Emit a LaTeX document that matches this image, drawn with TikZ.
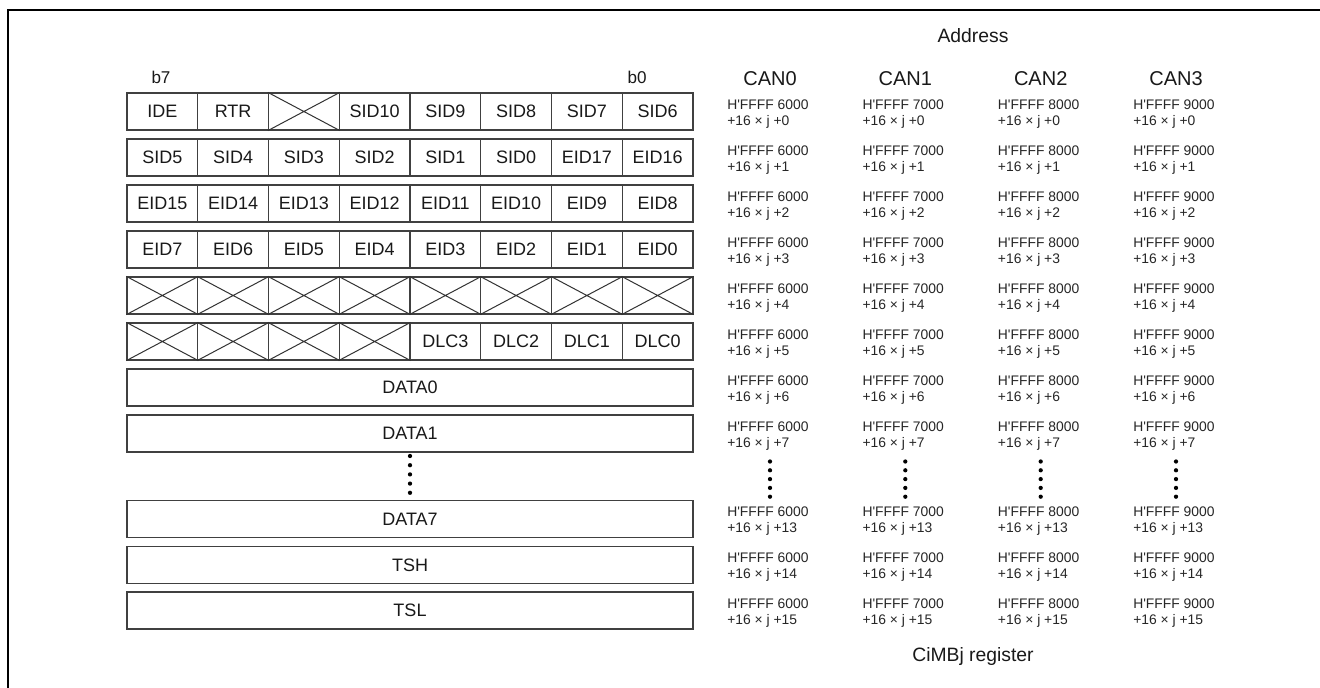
\documentclass[tikz,border=0pt]{standalone}
\usepackage{fontspec}
\setmainfont{Liberation Sans}
\begin{document}
\begin{tikzpicture}[x=0.75pt,y=-0.75pt,
  cell/.style={draw=black!75, line width=0.9pt, minimum width=53.06pt, minimum height=27.75pt, inner sep=0pt, font=\fontsize{13.5}{15}\selectfont, text=black!90},
  wide/.style={cell, minimum width=424.5pt},
  xline/.style={draw=black!80, line width=0.75pt},
  addr/.style={anchor=north west, inner sep=0pt, align=left, font=\fontsize{10.4}{12.2}\selectfont, text=black!85},
  head/.style={anchor=base, inner sep=0pt, font=\fontsize{14.5}{16}\selectfont, text=black!90},
  canhd/.style={head, font=\fontsize{15}{17}\selectfont},
  bitlbl/.style={anchor=base, inner sep=0pt, font=\fontsize{12.8}{15}\selectfont, text=black!90},
  dotc/.style={circle, fill=black, inner sep=0pt, minimum size=3.2pt},
]
\useasboundingbox (0,0) rectangle (1320,688);
\fill[white] (0,0) rectangle (1320,688);
% outer frame (left and top edges visible)
\coordinate (fbl) at (8,690);
\coordinate (ftl) at (8,10);
\coordinate (ftr) at (1322,10);
\draw[line width=2pt] (fbl) -- (ftl) -- (ftr);

% bit labels
\node[bitlbl] (b7) at (161,84) {b7};
\node[bitlbl] (b0) at (637,84) {b0};

% byte rows with bit cells
\foreach [count=\c from 0] \t in {IDE,RTR,{},SID10,SID9,SID8,SID7,SID6}
  \node[cell] (r0c\c) at ({162.375+70.75*\c},111.5) {\t};
\foreach [count=\c from 0] \t in {SID5,SID4,SID3,SID2,SID1,SID0,EID17,EID16}
  \node[cell] (r1c\c) at ({162.375+70.75*\c},157.5) {\t};
\foreach [count=\c from 0] \t in {EID15,EID14,EID13,EID12,EID11,EID10,EID9,EID8}
  \node[cell] (r2c\c) at ({162.375+70.75*\c},203.5) {\t};
\foreach [count=\c from 0] \t in {EID7,EID6,EID5,EID4,EID3,EID2,EID1,EID0}
  \node[cell] (r3c\c) at ({162.375+70.75*\c},249.5) {\t};
\foreach \c in {0,...,7}
  \node[cell] (r4c\c) at ({162.375+70.75*\c},295.5) {};
\foreach [count=\c from 0] \t in {{},{},{},{},DLC3,DLC2,DLC1,DLC0}
  \node[cell] (r5c\c) at ({162.375+70.75*\c},341.5) {\t};

% reserved (crossed) bits
\foreach \n in {r0c2,r4c0,r4c1,r4c2,r4c3,r4c4,r4c5,r4c6,r4c7,r5c0,r5c1,r5c2,r5c3}
  \draw[xline] (\n.north west) -- (\n.south east) (\n.south west) -- (\n.north east);

% full-width bytes
\node[wide] (data0) at (410,387.5) {DATA0};
\node[wide] (data1) at (410,433.5) {DATA1};
\node[wide] (data7) at (410,519) {DATA7};
\node[wide] (tsh) at (410,565) {TSH};
\node[wide] (tsl) at (410,610.5) {TSL};

% vertical ellipsis (left)
\foreach \i in {0,...,4}
  \node[dotc] (ld\i) at (410,{456+9.2*\i}) {};

% address header
\node[head] (addrtitle) at (973,42.7) {Address};
\node[head] (cimbj) at (973,661) {CiMBj register};

\foreach \k/\ax/\b in {0/727/6000,1/862.3/7000,2/997.7/8000,3/1133/9000}{
  \node[canhd] (can\k) at ({\ax+43},85.7) {CAN\k};
  \foreach \rc/\s in {111.5/0,157.5/1,203.5/2,249.5/3,295.5/4,341.5/5,387.5/6,433.5/7,519/13,565/14,610.5/15}
    \node[addr] (a\k-\s) at (\ax,{\rc-12.3}) {H\textquotesingle FFFF \b\\+16 × j +\s};
  \foreach \i in {0,...,4}
    \node[dotc] (rd\k-\i) at ({\ax+43},{461.5+8.8*\i}) {};
}
\end{tikzpicture}
\end{document}
